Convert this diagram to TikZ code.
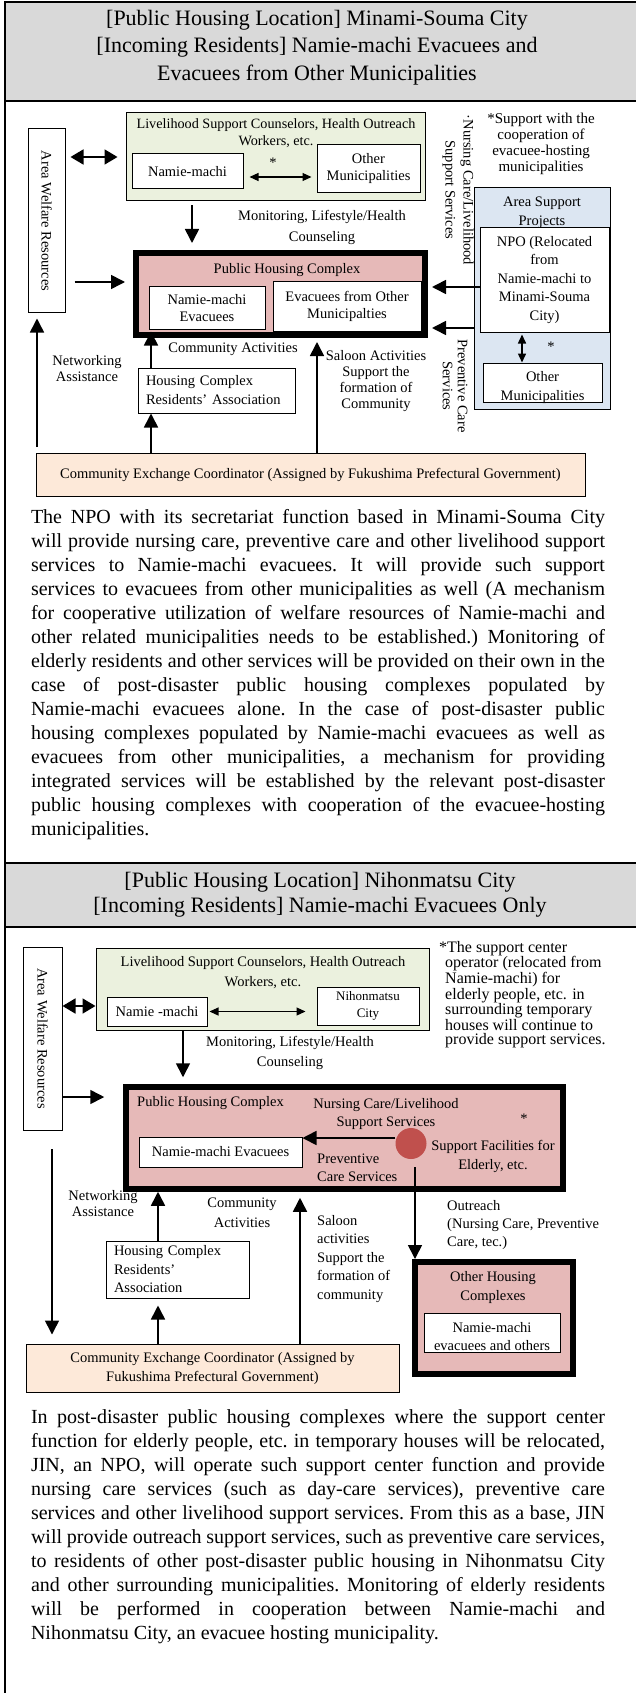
\documentclass[tikz,border=0pt]{standalone}
\usepackage{fontspec}
\setmainfont{Liberation Serif}
\usetikzlibrary{arrows.meta,positioning}
\definecolor{hdrgray}{HTML}{D9D9D9}
\definecolor{lsgreen}{HTML}{EBF1DE}
\definecolor{phcpink}{HTML}{E6B9B8}
\definecolor{aspblue}{HTML}{DCE6F2}
\definecolor{cocream}{HTML}{FDE9D9}
\definecolor{sfred}{HTML}{C0504D}
\newcommand{\dfont}{\fontsize{14.5}{17}\selectfont}
\newcommand{\bodyfont}{\fontsize{20}{24}\selectfont}
\newlength{\bodyw}
\setlength{\bodyw}{574pt}
\newcommand{\jl}[1]{\makebox[\bodyw][s]{\spaceskip=0pt\xspaceskip=0pt\frenchspacing #1}\\}
\newcommand{\lastl}[1]{{\spaceskip=0pt\xspaceskip=0pt\frenchspacing #1}}

\begin{document}
\begin{tikzpicture}[x=1pt,y=-1pt,
		box/.style={draw,line width=1pt,fill=white,inner sep=0pt,align=center,font=\dfont},
		bigbox/.style={draw,line width=6pt,fill=phcpink},
		lbl/.style={inner sep=0pt,align=center,font=\dfont},
		body/.style={inner sep=0pt,align=left,text width=\bodyw,font=\bodyfont},
		arr/.style={line width=1.6pt,-{Triangle[length=14pt,width=14pt]}},
		dbl/.style={line width=1.8pt,{Triangle[length=13pt,width=15pt]}-{Triangle[length=13pt,width=15pt]}},
		sdbl/.style={line width=1.1pt,{Triangle[length=9pt,width=8pt]}-{Triangle[length=9pt,width=8pt]}},
		frame/.style={line width=1.8pt}]
	\useasboundingbox (0,0) rectangle (635,1693);
	\fill[hdrgray] (5,2) rectangle (640,101);
	\fill[hdrgray] (5,863) rectangle (640,927);
	\draw[frame] (640,2) -- (5,2) -- (5,1700);
	\draw[frame] (5,101) -- (640,101);
	\draw[frame] (5,863) -- (640,863);
	\draw[frame] (5,927) -- (640,927);

	\node[lbl,font=\fontsize{22}{27.7}\selectfont] (hdr1) at (317,47.5) {{[Public Housing Location]} Minami-Souma City\\{[Incoming Residents]} Namie-machi Evacuees and\\Evacuees from Other Municipalities};

	\node[box,rotate=-90,minimum width=184,minimum height=37] (aw1) at (46.5,221) {Area Welfare Resources};
	\node[box,fill=lsgreen,minimum width=299,minimum height=88] (ls1) at (275.5,157) {};
	\node[lbl,font=\fontsize{14.2}{17}\selectfont] (ls1t) at (276,133.5) {Livelihood Support Counselors, Health Outreach\\Workers, etc.};
	\node[box,minimum width=111,minimum height=35] (nm1) at (187.5,171.5) {Namie-machi};
	\node[box,minimum width=103,minimum height=48] (om1) at (368.5,169) {Other\\Municipalities};
	\node[lbl] (st1) at (273,163) {*};
		\draw[sdbl,shorten <=6pt,shorten >=5pt] ([yshift=-5.5pt]nm1.east) -- ([yshift=-5.5pt]nm1.east -| om1.west);
		\draw[dbl,shorten <=5pt,shorten >=8pt] (aw1.north |- ls1.west) -- (ls1.west);
	\node[bigbox,minimum width=289,minimum height=82] (phc1) at (280.5,294) {};
		\draw[arr,shorten <=4pt,shorten >=7pt] ([xshift=4.5pt]ls1.south -| nm1.south) -- ([xshift=4.5pt]nm1.south |- phc1.north);
		\draw[arr,shorten <=9pt,shorten >=8pt] ([yshift=-61pt]aw1.north) -- ([yshift=-61pt]aw1.north -| phc1.west);
	\node[lbl,font=\fontsize{14.5}{21}\selectfont] (mon1) at (322,227.5) {Monitoring, Lifestyle/Health\\Counseling};
	\node[lbl] (phc1t) at (287,270) {Public Housing Complex};
	\node[box,minimum width=116,minimum height=42] (ne1) at (207,308) {Namie-machi\\Evacuees};
	\node[box,minimum width=148,minimum height=49] (eo1) at (347,306.5) {Evacuees from Other\\Municipalties};
	\node[lbl,rotate=-90,font=\fontsize{14.5}{18}\selectfont] (nls1) at (458,190) {·Nursing Care/Livelihood\\Support Services};
	\node[lbl,font=\fontsize{15}{16}\selectfont] (note1) at (541,143.5) {*Support with the\\cooperation of\\evacuee-hosting\\municipalities};
	\node[box,fill=aspblue,minimum width=136,minimum height=221] (asp1) at (542,298.5) {};
	\node[lbl,font=\fontsize{14.5}{19}\selectfont] (asp1t) at (542,212.5) {Area Support\\Projects};
	\node[box,minimum width=129,minimum height=104,font=\fontsize{14.5}{18.5}\selectfont] (npo1) at (544.5,280) {NPO (Relocated\\from\\Namie-machi to\\Minami-Souma\\City)};
	\node[box,minimum width=119,minimum height=39] (om2) at (542.5,382.5) {};
	\node[lbl,font=\fontsize{14.5}{19}\selectfont] (om2t) at (542.5,387.5) {Other\\Municipalities};
		\draw[sdbl,line width=1.5pt,shorten <=2pt] ([xshift=-22.5pt]npo1.south) -- ([xshift=-22.5pt]npo1.south |- om2.north);
	\node[lbl] (st2) at (551,347) {*};
		\draw[arr,shorten >=4pt] ([yshift=-7pt]npo1.west) -- ([yshift=-7pt]npo1.west -| phc1.east);
		\draw[arr,shorten >=4pt] ([yshift=-29.5pt]asp1.west) -- ([yshift=-29.5pt]asp1.west -| phc1.east);
	\node[lbl,rotate=-90,font=\fontsize{14.5}{15}\selectfont] (pcs1) at (455,386) {Preventive Care\\Services};
	\node[lbl] (ca1) at (233,349) {Community Activities};
	\node[box,minimum width=157,minimum height=45,text width=141,align=left,font=\fontsize{14.5}{19}\selectfont] (hc1) at (216.5,390.5) {Housing Complex\\Residents' Association};
	\node[box,fill=cocream,minimum width=549,minimum height=43] (co1) at (310.5,474.5) {Community Exchange Coordinator (Assigned by Fukushima Prefectural Government)};
		\draw[arr,shorten >=2pt] ([xshift=-65.5pt]hc1.north) -- ([xshift=-65.5pt]hc1.north |- ne1.south);
		\draw[arr] ([xshift=-159.5pt]co1.north) -- ([xshift=-159.5pt]co1.north |- hc1.south);
		\draw[arr,shorten >=4pt] ([xshift=6.5pt]co1.north) -- ([xshift=6.5pt]co1.north |- phc1.south);
	\node[lbl,font=\fontsize{14.5}{16}\selectfont] (sa1) at (376,381) {Saloon Activities\\Support the\\formation of\\Community};
	\node[lbl,font=\fontsize{14.5}{16}\selectfont] (nw1t) at (87,369) {Networking\\Assistance};
	\coordinate (nw1) at (37,447);
		\draw[arr,shorten >=5pt] (nw1) -- (nw1 |- aw1.east);

	\node[body] (txt1) at (318,675) {\jl{The NPO with its secretariat function based in Minami-Souma City}\jl{will provide nursing care, preventive care and other livelihood support}\jl{services to Namie-machi evacuees. It will provide such support}\jl{services to evacuees from other municipalities as well (A mechanism}\jl{for cooperative utilization of welfare resources of Namie-machi and}\jl{other related municipalities needs to be established.) Monitoring of}\jl{elderly residents and other services will be provided on their own in the}\jl{case of post-disaster public housing complexes populated by}\jl{Namie-machi evacuees alone. In the case of post-disaster public}\jl{housing complexes populated by Namie-machi evacuees as well as}\jl{evacuees from other municipalities, a mechanism for providing}\jl{integrated services will be established by the relevant post-disaster}\jl{public housing complexes with cooperation of the evacuee-hosting}\lastl{municipalities.}};

	\node[lbl,font=\fontsize{22}{25}\selectfont] (hdr2) at (320,894.5) {{[Public Housing Location]} Nihonmatsu City\\{[Incoming Residents]} Namie-machi Evacuees Only};

	\node[box,rotate=-90,minimum width=183,minimum height=39] (aw2) at (42.5,1038.5) {Area Welfare Resources};
	\node[box,fill=lsgreen,minimum width=333,minimum height=82] (ls2) at (262.5,989) {};
	\node[lbl,font=\fontsize{14.5}{20}\selectfont] (ls2t) at (263,973) {Livelihood Support Counselors, Health Outreach\\Workers, etc.};
	\node[box,minimum width=100,minimum height=29] (nm2) at (157,1011.5) {Namie -machi};
	\node[box,minimum width=102,minimum height=38,font=\fontsize{13}{17}\selectfont] (nc2) at (368,1006) {Nihonmatsu\\City};
		\draw[dbl] ([yshift=-17pt]aw2.north |- ls2.west) -- ([yshift=-17pt]ls2.west);
		\draw[sdbl,shorten <=2pt,shorten >=11pt] (nm2.east) -- (nm2.east -| nc2.west);
	\node[anchor=north west,inner sep=0pt,align=left,font=\fontsize{16}{14.5}\selectfont] (note2) at (439,941) {*The support center\\\hspace*{6pt}operator (relocated from\\\hspace*{6pt}Namie-machi) for\\\hspace*{6pt}elderly people, etc. in\\\hspace*{6pt}surrounding temporary\\\hspace*{6pt}houses will continue to\\\hspace*{6pt}provide support services.};
	\node[bigbox,line width=5.5pt,minimum width=437,minimum height=102] (phc2) at (344.5,1138) {};
		\draw[arr,shorten >=7pt] ([xshift=-79.5pt]ls2.south) -- ([xshift=-79.5pt]ls2.south |- phc2.north);
		\draw[arr,shorten >=19pt] ([yshift=-58.5pt]aw2.north) -- ([yshift=-58.5pt]aw2.north -| phc2.west);
	\node[lbl,font=\fontsize{14.5}{20}\selectfont] (mon2) at (290,1053) {Monitoring, Lifestyle/Health\\Counseling};
	\node[lbl,anchor=west] (phc2t) at (137,1103) {Public Housing Complex};
	\node[lbl,font=\fontsize{14.5}{18}\selectfont] (nls2) at (386,1114) {Nursing Care/Livelihood\\Support Services};
	\node[lbl] (st3) at (524,1119) {*};
	\node[circle,fill=sfred,minimum size=31,inner sep=0pt] (sf2) at (411,1143.5) {};
	\node[box,minimum width=163,minimum height=30] (ne2) at (220.5,1152) {Namie-machi Evacuees};
		\draw[arr] ([yshift=5.5pt]sf2.west) -- ([yshift=5.5pt]sf2.west -| ne2.east);
	\node[lbl,font=\fontsize{14.5}{19}\selectfont] (sfl2) at (493,1156.5) {Support Facilities for\\Elderly, etc.};
	\node[lbl,anchor=west,align=left,font=\fontsize{14.5}{18}\selectfont] (pcs2) at (317,1168) {Preventive\\Care Services};
	\node[bigbox,minimum width=158,minimum height=112] (oh2) at (494,1318) {};
		\draw[arr] ([xshift=4pt,yshift=-8pt]sf2.south) -- ([xshift=4pt]sf2.south |- oh2.north);
	\node[lbl,anchor=west,align=left,font=\fontsize{14.5}{18}\selectfont] (or2) at (447,1225) {Outreach\\(Nursing Care, Preventive\\Care, tec.)};
	\node[lbl,font=\fontsize{14.5}{19}\selectfont] (oh2t) at (493,1287.5) {Other Housing\\Complexes};
	\node[box,minimum width=136,minimum height=39] (ne3) at (492,1332.5) {};
	\node[lbl,font=\fontsize{14.5}{18}\selectfont] (ne3t) at (492,1337) {Namie-machi\\evacuees and others};
	\node[lbl,font=\fontsize{14.5}{16}\selectfont] (nw2t) at (103,1204) {Networking\\Assistance};
	\node[lbl,font=\fontsize{14.5}{20}\selectfont] (ca2) at (242,1213) {Community\\Activities};
	\node[box,minimum width=143,minimum height=57,text width=127,align=left,font=\fontsize{14.5}{18.5}\selectfont] (hc2) at (177.5,1269.5) {Housing Complex\\Residents'\\Association};
	\node[box,fill=cocream,minimum width=373,minimum height=48,font=\fontsize{14.5}{19}\selectfont] (co2) at (212.5,1368) {Community Exchange Coordinator (Assigned by\\Fukushima Prefectural Government)};
		\draw[arr] ([xshift=-19.5pt]hc2.north) -- ([xshift=-19.5pt]hc2.north |- phc2.south);
		\draw[arr,shorten >=6pt] ([xshift=87.5pt]co2.north) -- ([xshift=87.5pt]co2.north |- phc2.south);
		\draw[arr,shorten >=7pt] ([xshift=-54.5pt]co2.north) -- ([xshift=-54.5pt]co2.north |- hc2.south);
	\node[lbl,anchor=west,align=left,font=\fontsize{14.5}{18.5}\selectfont] (sa2) at (317,1259) {Saloon\\activities\\Support the\\formation of\\community};
	\coordinate (nw2) at (52,1149);
		\draw[arr,shorten >=9pt] (nw2) -- (nw2 |- co2.north);

	\node[body] (txt2) at (318,1527) {\jl{In post-disaster public housing complexes where the support center}\jl{function for elderly people, etc. in temporary houses will be relocated,}\jl{JIN, an NPO, will operate such support center function and provide}\jl{nursing care services (such as day-care services), preventive care}\jl{services and other livelihood support services. From this as a base, JIN}\jl{will provide outreach support services, such as preventive care services,}\jl{to residents of other post-disaster public housing in Nihonmatsu City}\jl{and other surrounding municipalities. Monitoring of elderly residents}\jl{will be performed in cooperation between Namie-machi and}\lastl{Nihonmatsu City, an evacuee hosting municipality.}};
\end{tikzpicture}
\end{document}
